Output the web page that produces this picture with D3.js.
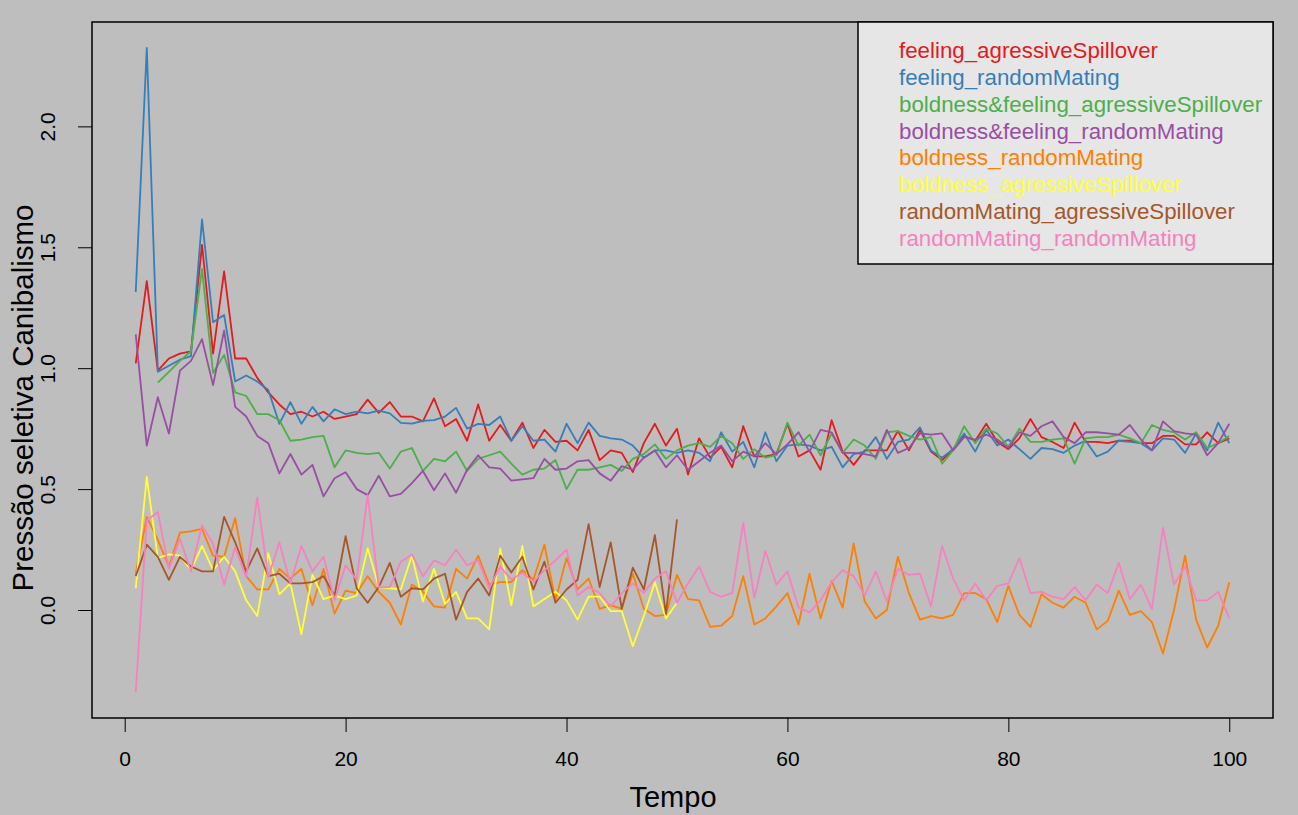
<!DOCTYPE html>
<html>
<head>
<meta charset="utf-8">
<script src="https://cdn.jsdelivr.net/npm/d3@7"></script>
<style>
  body { margin: 0; background: #bebebe; }
  text { font-family: "Liberation Sans", Arial, sans-serif; }
</style>
</head>
<body>
<div id="chart"></div>
<script>
var width = 1298
var height = 815

// Tempo (1..100) e nomes das series
var tempo = d3.range(1, 101)
var seriesNames = ['feeling_agressiveSpillover', 'feeling_randomMating',
  'boldness&feeling_agressiveSpillover', 'boldness&feeling_randomMating',
  'boldness_randomMating', 'boldness_agressiveSpillover',
  'randomMating_agressiveSpillover', 'randomMating_randomMating']
var seriesColors = ['#E41A1C', '#377EB8', '#4DAF4A', '#984EA3', '#FF7F00', '#FFFF33', '#A65628', '#F781BF']

var feelingAgr = [1.02, 1.36, 0.99, 1.04, 1.06, 1.07, 1.51, 1.06, 1.40, 1.04,
  1.04, 0.96, 0.90, 0.85, 0.81, 0.82, 0.80, 0.82, 0.79, 0.80,
  0.81, 0.87, 0.815, 0.86, 0.80, 0.80, 0.78, 0.875, 0.76, 0.79,
  0.70, 0.85, 0.70, 0.765, 0.70, 0.775, 0.67, 0.745, 0.695, 0.70,
  0.66, 0.745, 0.62, 0.66, 0.65, 0.57, 0.69, 0.77, 0.68, 0.75,
  0.56, 0.71, 0.63, 0.675, 0.59, 0.76, 0.635, 0.635, 0.645, 0.77,
  0.635, 0.66, 0.58, 0.785, 0.655, 0.60, 0.66, 0.66, 0.66, 0.74,
  0.66, 0.745, 0.655, 0.62, 0.665, 0.72, 0.70, 0.77, 0.695, 0.665,
  0.71, 0.79, 0.715, 0.695, 0.67, 0.775, 0.695, 0.695, 0.69, 0.70,
  0.70, 0.69, 0.69, 0.72, 0.72, 0.685, 0.685, 0.735, 0.69, 0.71]

var feelingRand = [1.315, 2.325, 0.985, 1.01, 1.035, 1.05, 1.615, 1.19, 1.22, 0.945,
  0.97, 0.945, 0.91, 0.77, 0.86, 0.77, 0.84, 0.78, 0.83, 0.81,
  0.82, 0.813, 0.824, 0.813, 0.774, 0.771, 0.782, 0.785, 0.80, 0.836,
  0.75, 0.77, 0.765, 0.80, 0.70, 0.76, 0.70, 0.705, 0.655, 0.77,
  0.69, 0.775, 0.72, 0.71, 0.705, 0.68, 0.63, 0.66, 0.66, 0.65,
  0.66, 0.65, 0.615, 0.735, 0.655, 0.695, 0.59, 0.735, 0.615, 0.68,
  0.685, 0.68, 0.66, 0.675, 0.59, 0.645, 0.655, 0.715, 0.625, 0.695,
  0.705, 0.755, 0.66, 0.63, 0.665, 0.73, 0.655, 0.745, 0.68, 0.705,
  0.665, 0.625, 0.67, 0.665, 0.65, 0.68, 0.70, 0.635, 0.655, 0.70,
  0.695, 0.69, 0.66, 0.71, 0.705, 0.65, 0.73, 0.66, 0.775, 0.69]

var boldFeelAgr = [null, null, 0.94, 0.985, 1.03, 1.07, 1.41, 0.98, 1.055, 0.90,
  0.885, 0.81, 0.81, 0.785, 0.70, 0.705, 0.715, 0.72, 0.59, 0.66,
  0.65, 0.645, 0.65, 0.585, 0.655, 0.67, 0.575, 0.625, 0.615, 0.655,
  0.575, 0.625, 0.64, 0.655, 0.605, 0.56, 0.58, 0.585, 0.62, 0.50,
  0.58, 0.58, 0.59, 0.60, 0.575, 0.625, 0.645, 0.685, 0.625, 0.66,
  0.68, 0.69, 0.675, 0.72, 0.69, 0.625, 0.665, 0.63, 0.64, 0.775,
  0.68, 0.725, 0.64, 0.73, 0.65, 0.705, 0.68, 0.625, 0.735, 0.74,
  0.72, 0.705, 0.715, 0.605, 0.66, 0.76, 0.69, 0.75, 0.73, 0.675,
  0.75, 0.695, 0.695, 0.705, 0.71, 0.605, 0.71, 0.715, 0.715, 0.725,
  0.71, 0.69, 0.765, 0.745, 0.735, 0.705, 0.735, 0.67, 0.69, 0.72]

var boldFeelRand = [1.14, 0.68, 0.88, 0.73, 0.99, 1.03, 1.12, 0.93, 1.155, 0.84,
  0.80, 0.72, 0.69, 0.565, 0.645, 0.56, 0.60, 0.47, 0.545, 0.57,
  0.50, 0.475, 0.555, 0.47, 0.48, 0.525, 0.575, 0.495, 0.565, 0.485,
  0.58, 0.64, 0.59, 0.585, 0.535, 0.54, 0.545, 0.625, 0.58, 0.585,
  0.615, 0.62, 0.565, 0.535, 0.595, 0.58, 0.63, 0.66, 0.59, 0.64,
  0.58, 0.615, 0.65, 0.68, 0.615, 0.655, 0.635, 0.69, 0.645, 0.685,
  0.735, 0.655, 0.745, 0.735, 0.65, 0.65, 0.645, 0.635, 0.745, 0.65,
  0.67, 0.73, 0.725, 0.73, 0.66, 0.715, 0.705, 0.725, 0.705, 0.67,
  0.735, 0.72, 0.76, 0.78, 0.715, 0.69, 0.735, 0.735, 0.73, 0.725,
  0.765, 0.705, 0.66, 0.78, 0.74, 0.73, 0.725, 0.64, 0.69, 0.77]

var boldRand = [0.15, 0.385, 0.29, 0.18, 0.32, 0.325, 0.335, 0.225, 0.22, 0.38,
  0.14, 0.085, 0.085, 0.17, 0.13, 0.17, 0.02, 0.17, -0.015, 0.08,
  0.07, 0.14, 0.075, 0.03, -0.06, 0.105, 0.075, 0.015, 0.01, 0.17,
  0.13, 0.225, 0.105, 0.115, 0.115, 0.165, 0.125, 0.27, 0.04, 0.215,
  0.085, 0.13, 0.005, 0.02, 0.005, 0.15, 0.005, -0.025, -0.02, 0.145,
  0.045, 0.04, -0.07, -0.065, -0.025, 0.14, -0.06, -0.035, 0.015, 0.07,
  -0.06, 0.15, -0.035, 0.12, 0.01, 0.275, 0.035, -0.035, 0.0, 0.22,
  0.07, -0.04, -0.025, -0.035, -0.02, 0.07, 0.07, 0.045, -0.05, 0.10,
  -0.02, -0.07, 0.065, 0.03, 0.01, 0.055, 0.03, -0.08, -0.045, 0.08,
  -0.02, -0.005, -0.05, -0.18, 0.0, 0.225, -0.04, -0.155, -0.065, 0.115]

var boldAgr = [0.09, 0.55, 0.215, 0.23, 0.225, 0.165, 0.265, 0.165, 0.22, 0.16,
  0.04, -0.025, 0.235, 0.065, 0.11, -0.10, 0.145, 0.045, 0.06, 0.045,
  0.06, 0.255, 0.095, 0.09, 0.085, 0.225, 0.035, 0.17, 0.025, 0.075,
  -0.035, -0.035, -0.08, 0.255, 0.02, 0.265, 0.015, 0.045, 0.075, 0.04,
  -0.04, 0.055, 0.055, -0.005, -0.005, -0.15, -0.025, 0.115, -0.035, 0.03]

var randAgr = [0.14, 0.27, 0.22, 0.125, 0.22, 0.18, 0.16, 0.16, 0.385, 0.28,
  0.16, 0.255, 0.14, 0.15, 0.11, 0.11, 0.115, 0.14, 0.06, 0.305,
  0.09, 0.03, 0.095, 0.195, 0.055, 0.09, 0.085, 0.13, 0.15, -0.04,
  0.075, 0.13, 0.06, 0.225, 0.155, 0.22, 0.085, 0.20, 0.03, 0.085,
  0.125, 0.355, 0.095, 0.28, 0.005, 0.175, 0.085, 0.31, -0.015, 0.375]

var randRand = [-0.34, 0.37, 0.405, 0.17, 0.295, 0.16, 0.35, 0.275, 0.105, 0.26,
  0.135, 0.465, 0.135, 0.28, 0.11, 0.265, 0.16, 0.22, 0.04, 0.185,
  0.125, 0.475, 0.095, 0.095, 0.20, 0.23, 0.14, 0.205, 0.185, 0.25,
  0.185, 0.205, 0.09, 0.18, 0.125, 0.155, 0.115, 0.165, 0.205, 0.25,
  0.06, 0.095, 0.07, 0.015, 0.07, 0.11, 0.07, 0.13, 0.16, 0.03,
  0.11, 0.18, 0.075, 0.055, 0.07, 0.36, 0.05, 0.245, 0.105, 0.16,
  0.01, -0.01, 0.04, 0.115, 0.165, 0.14, 0.06, 0.16, 0.035, 0.17,
  0.145, 0.15, 0.015, 0.265, 0.13, 0.04, 0.11, 0.04, 0.10, 0.11,
  0.215, 0.07, 0.075, 0.055, 0.045, 0.095, 0.04, 0.105, 0.07, 0.195,
  0.045, 0.105, 0.005, 0.34, 0.105, 0.18, 0.04, 0.04, 0.075, -0.035]

var seriesValues = [feelingAgr, feelingRand, boldFeelAgr, boldFeelRand, boldRand, boldAgr, randAgr, randRand]

var svg = d3.select('#chart').append('svg')
    .attr('width', width)
    .attr('height', height)

svg.append('rect')
    .attr('width', width)
    .attr('height', height)
    .attr('fill', '#bebebe')

// area do grafico (como no R: 4% de folga em cada lado)
var box = { left: 92, right: 1273, top: 22, bottom: 718 }

var allVals = []
seriesValues.forEach(function (s) { s.forEach(function (v) { if (v !== null) allVals.push(v) }) })
var yExt = d3.extent(allVals)
var yPad = (yExt[1] - yExt[0]) * 0.04
var xPad = (tempo[tempo.length - 1] - tempo[0]) * 0.04

var x = d3.scaleLinear()
    .domain([tempo[0] - xPad, tempo[tempo.length - 1] + xPad])
    .range([box.left, box.right])

var y = d3.scaleLinear()
    .domain([yExt[0] - yPad, yExt[1] + yPad])
    .range([box.bottom, box.top])

var line = d3.line()
    .defined(function (d) { return d !== null })
    .x(function (d, i) { return x(tempo[i]) })
    .y(function (d) { return y(d) })

svg.append('g').selectAll('path')
    .data(seriesValues)
    .enter().append('path')
    .attr('d', line)
    .attr('fill', 'none')
    .attr('stroke', function (d, i) { return seriesColors[i] })
    .attr('stroke-width', 1.8)
    .attr('stroke-linejoin', 'round')

// eixos
var xAxis = svg.append('g')
    .attr('transform', 'translate(0,' + box.bottom + ')')
    .call(d3.axisBottom(x).tickValues([0, 20, 40, 60, 80, 100]).tickSize(14).tickPadding(19))
xAxis.select('.domain').remove()
xAxis.selectAll('text').attr('font-size', 21).attr('fill', '#000')
    .style('font-family', '"Liberation Sans", Arial, sans-serif')
xAxis.selectAll('line').attr('stroke', '#000')

var yAxis = svg.append('g')
    .attr('transform', 'translate(' + box.left + ',0)')
    .call(d3.axisLeft(y).tickValues([0, 0.5, 1, 1.5, 2]).tickSize(14).tickFormat(d3.format('.1f')))
yAxis.select('.domain').remove()
yAxis.selectAll('line').attr('stroke', '#000')
yAxis.selectAll('text')
    .attr('transform', 'rotate(-90)')
    .attr('x', 0)
    .attr('y', -37)
    .attr('dy', 0)
    .attr('text-anchor', 'middle')
    .attr('font-size', 21)
    .attr('fill', '#000')
    .style('font-family', '"Liberation Sans", Arial, sans-serif')

svg.append('rect')
    .attr('x', box.left)
    .attr('y', box.top)
    .attr('width', box.right - box.left)
    .attr('height', box.bottom - box.top)
    .attr('fill', 'none')
    .attr('stroke', '#000')
    .attr('stroke-width', 1.5)

svg.append('text')
    .attr('x', 673)
    .attr('y', 807)
    .attr('text-anchor', 'middle')
    .attr('font-size', 29)
    .text('Tempo')

svg.append('text')
    .attr('transform', 'translate(33,398) rotate(-90)')
    .attr('text-anchor', 'middle')
    .attr('font-size', 29.5)
    .text('Pressão seletiva Canibalismo')

// legenda
var legend = svg.append('g')
legend.append('rect')
    .attr('x', 858)
    .attr('y', box.top)
    .attr('width', box.right - 858)
    .attr('height', 242)
    .attr('fill', '#e6e6e6')
    .attr('stroke', '#000')
    .attr('stroke-width', 1.5)

legend.selectAll('.leg')
    .data(seriesNames)
    .enter().append('text')
    .attr('class', 'leg')
    .attr('x', 899)
    .attr('y', function (d, i) { return 50 + i * 26.9 })
    .attr('dy', '0.35em')
    .attr('font-size', 22.3)
    .attr('fill', function (d, i) { return seriesColors[i] })
    .text(function (d) { return d })
</script>
</body>
</html>
